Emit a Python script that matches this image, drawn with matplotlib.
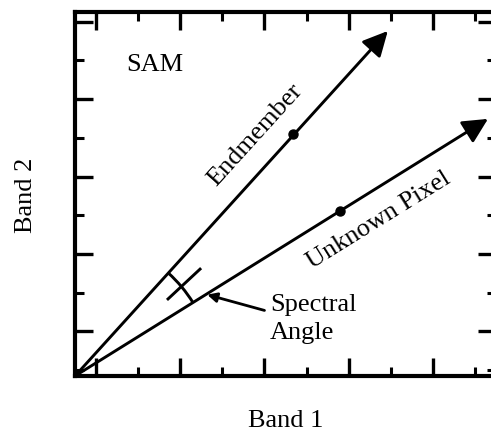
import numpy as np
import matplotlib
matplotlib.use('Agg')
from matplotlib import pyplot as plt
from matplotlib.patches import Arc

plt.rcParams['font.family'] = ['Liberation Serif', 'DejaVu Serif']

# vectors in band space (origin at 0, 0)
endmember_tip = [7.43, 8.91]
endmember_dot = [5.18, 6.25]
pixel_tip = [9.81, 6.64]
pixel_dot = [6.29, 4.26]

# angle marker: arc radius (x, y units) and short bisector stroke
arc_radius = [3.30, 3.59]
bisector_x = [2.21, 2.97]
bisector_y = [1.99, 2.76]
angle_pointer = [3.14, 2.10]

x_major = [0.5, 2.5, 4.5, 6.5, 8.5]
x_minor = [1.5, 3.5, 5.5, 7.5, 9.5]
y_major = [1.15, 3.15, 5.15, 7.15, 9.15]
y_minor = [0.15, 2.15, 4.15, 6.15, 8.15]

fs = 19

fig = plt.figure(figsize=(4.91, 4.31), dpi=100)
ax = fig.add_axes([75 / 491, 54 / 431, 421 / 491, 364 / 431])
ax.set_xlim(0, 10)
ax.set_ylim(0, 9.4)

for s in ax.spines.values():
    s.set_linewidth(3.0)
ax.set_xticks(x_major)
ax.set_xticks(x_minor, minor=True)
ax.set_yticks(y_major)
ax.set_yticks(y_minor, minor=True)
ax.set_xticklabels([])
ax.set_yticklabels([])
ax.tick_params(which='both', direction='in', top=True, right=True)
ax.tick_params(which='major', length=13, width=2.4)
ax.tick_params(which='minor', length=6.5, width=2.2)

arrow_kw = dict(arrowstyle='-|>', lw=2.1, color='black', mutation_scale=38,
                shrinkA=0, shrinkB=0)
ax.annotate('', xy=endmember_tip, xytext=(0, 0), arrowprops=arrow_kw)
ax.annotate('', xy=pixel_tip, xytext=(0, 0), arrowprops=arrow_kw)
ax.plot([endmember_dot[0], pixel_dot[0]], [endmember_dot[1], pixel_dot[1]],
        'o', color='black', markersize=6.5, linestyle='none')

# spectral angle arc
a1 = np.degrees(np.arctan2(pixel_tip[1], pixel_tip[0]))
a2 = np.degrees(np.arctan2(endmember_tip[1], endmember_tip[0]))
ax.add_patch(Arc((0, 0), 2 * arc_radius[0], 2 * arc_radius[1],
                 theta1=a1, theta2=a2, lw=2.1, color='black'))
ax.plot(bisector_x, bisector_y, color='black', lw=2.1)

ax.annotate('Spectral\nAngle', xy=angle_pointer, xytext=(4.63, 1.50),
            ha='left', va='center', fontsize=fs, linespacing=1.35,
            arrowprops=dict(arrowstyle='-|>', lw=2.0, color='black',
                            mutation_scale=14, shrinkA=2, shrinkB=0,
                            relpos=(0, 0.62)))

fig.canvas.draw()


def disp_angle(v):
    p0 = ax.transData.transform((0, 0))
    p1 = ax.transData.transform(v)
    return np.degrees(np.arctan2(p1[1] - p0[1], p1[0] - p0[0]))


ax.text(4.28, 6.25, 'Endmember', rotation=disp_angle(endmember_tip),
        rotation_mode='anchor', ha='center', va='center', fontsize=fs)
ax.text(7.22, 4.04, 'Unknown Pixel', rotation=disp_angle(pixel_tip),
        rotation_mode='anchor', ha='center', va='center', fontsize=fs)
ax.text(1.90, 8.05, 'SAM', ha='center', va='center', fontsize=fs)

ax.set_xlabel('Band 1', fontsize=fs, labelpad=20)
ax.set_ylabel('Band 2', fontsize=fs, labelpad=24)

fig.savefig('out.png', dpi=100)
